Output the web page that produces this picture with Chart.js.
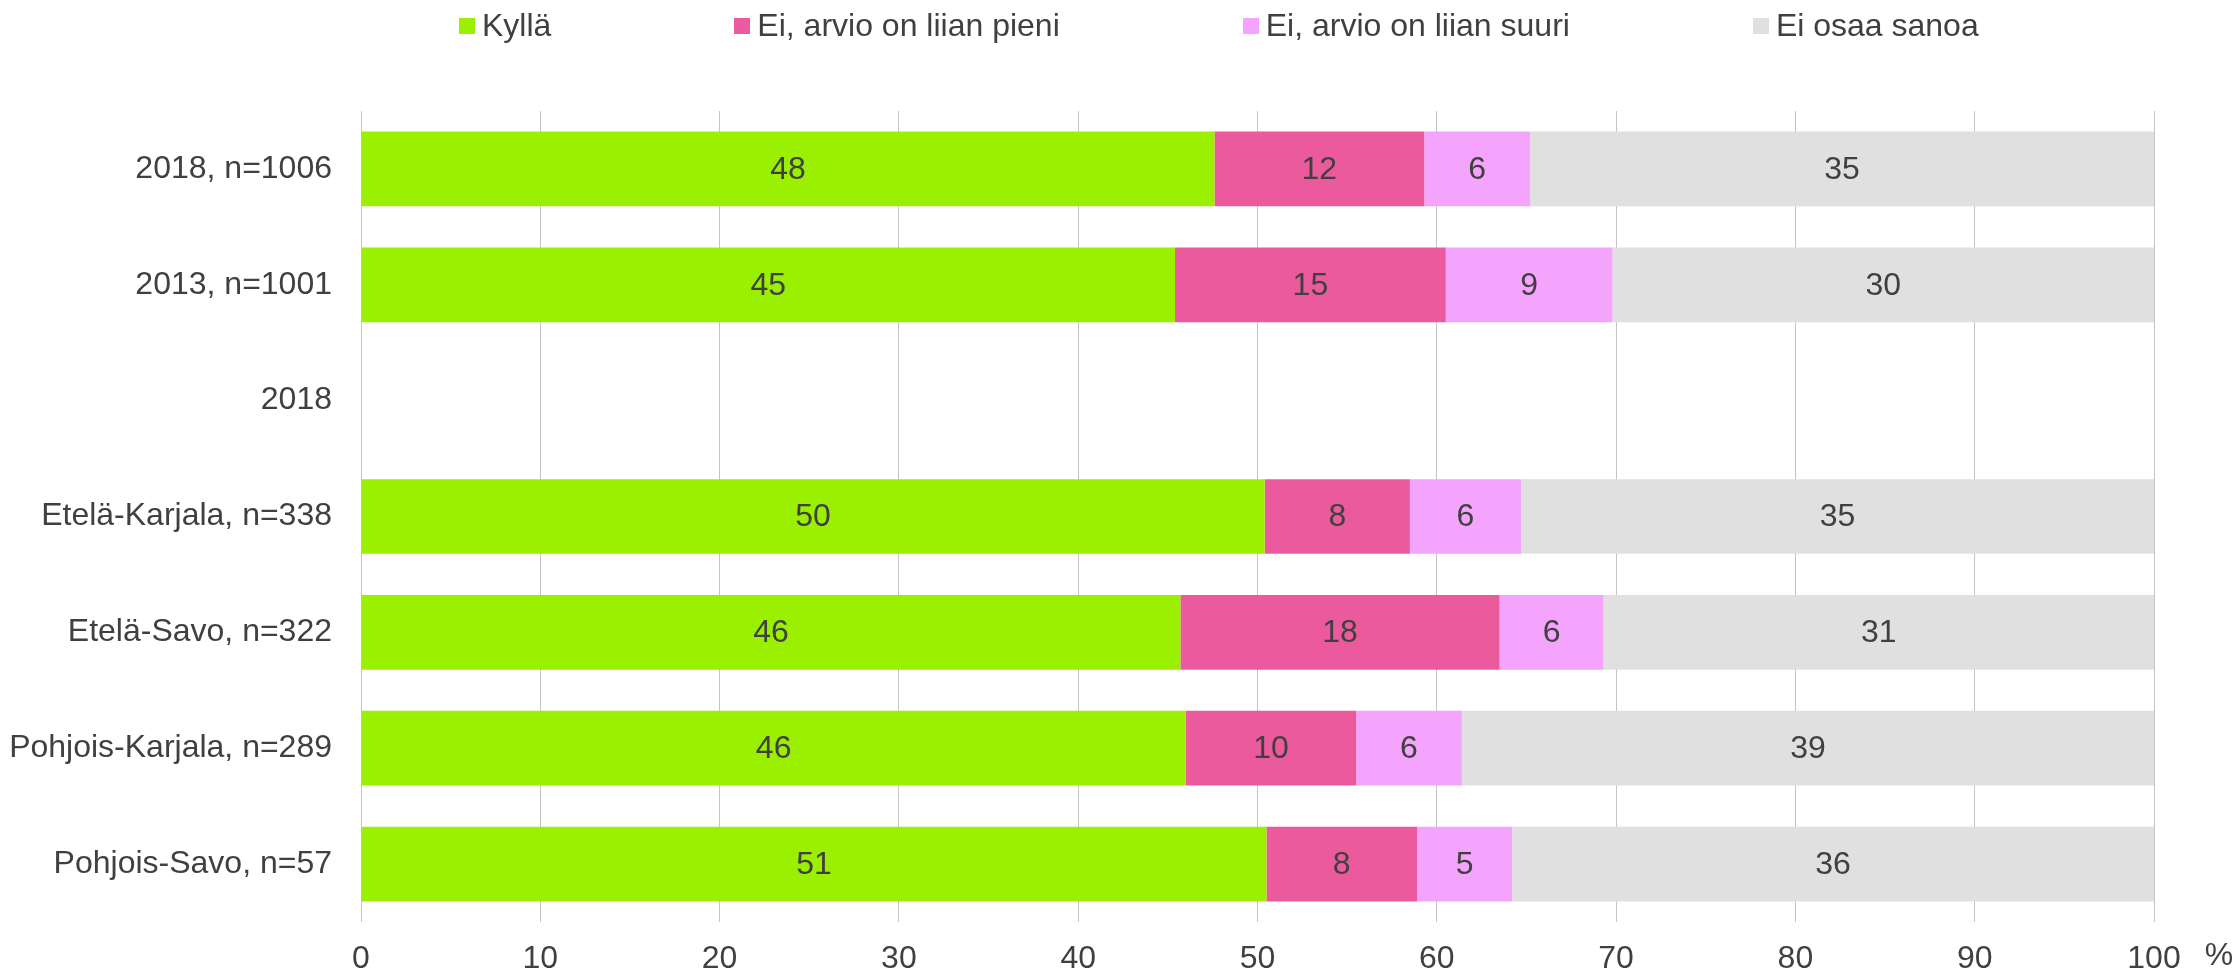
<!DOCTYPE html>
<html lang="fi">
<head>
  <meta charset="UTF-8">
  <title>Arvio</title>
  <script src="https://cdn.jsdelivr.net/npm/chart.js"></script>
  <style>
    body {
      margin: 0;
      background: #fff;
      font-family: 'Liberation Sans', Arial, sans-serif;
    }
    #wrapper {
      position: relative;
      width: 2239px;
      height: 977px;
    }
    #legend {
      position: absolute;
      top: 7px;
      left: 459px;
      display: flex;
      align-items: center;
      font-size: 32px;
      color: #404040;
      white-space: nowrap;
    }
    .legend-item {
      display: flex;
      align-items: center;
      margin-right: 183px;
    }
    .legend-box {
      width: 16px;
      height: 16px;
      margin-right: 7px;
    }
  </style>
</head>
<body>

<div id="wrapper">
  <div id="legend"></div>
  <canvas id="arvioChart" width="2239" height="977"></canvas>
</div>

<script>
  const categories = ['2018, n=1006', '2013, n=1001', '2018', 'Etelä-Karjala, n=338', 'Etelä-Savo, n=322', 'Pohjois-Karjala, n=289', 'Pohjois-Savo, n=57'];
  const seriesNames = ['Kyllä', 'Ei, arvio on liian pieni', 'Ei, arvio on liian suuri', 'Ei osaa sanoa'];
  const kylla = [47.6, 45.4, null, 50.4, 45.7, 46.0, 50.5];
  const liianPieni = [11.7, 15.1, null, 8.1, 17.8, 9.5, 8.4];
  const liianSuuri = [5.9, 9.3, null, 6.2, 5.8, 5.9, 5.3];
  const eiOsaa = [34.8, 30.2, null, 35.3, 30.7, 38.6, 35.8];
  const colors = ['#9AF000', '#EC5A9E', '#F4A4FC', '#E0E0E0'];

  const textColor = '#404040';
  const fontFamily = "'Liberation Sans', Arial, sans-serif";
  const fontSize = 32;

  // legend as html so the gaps between items can follow the original
  const htmlLegend = {
    id: 'htmlLegend',
    afterUpdate(chart) {
      const box = document.getElementById('legend');
      box.innerHTML = '';
      chart.data.datasets.forEach(ds => {
        const item = document.createElement('div');
        item.className = 'legend-item';
        const swatch = document.createElement('span');
        swatch.className = 'legend-box';
        swatch.style.background = ds.backgroundColor;
        const label = document.createElement('span');
        label.textContent = ds.label;
        item.appendChild(swatch);
        item.appendChild(label);
        box.appendChild(item);
      });
    }
  };

  // values written in the middle of each segment
  const segmentLabels = {
    id: 'segmentLabels',
    afterDatasetsDraw(chart) {
      const ctx = chart.ctx;
      ctx.save();
      ctx.font = fontSize + 'px ' + fontFamily;
      ctx.fillStyle = textColor;
      ctx.textAlign = 'center';
      ctx.textBaseline = 'middle';
      chart.data.datasets.forEach((ds, i) => {
        chart.getDatasetMeta(i).data.forEach((bar, j) => {
          const v = ds.data[j];
          if (v == null) return;
          const p = bar.getProps(['x', 'y', 'base'], true);
          ctx.fillText(Math.round(v), (p.x + p.base) / 2, p.y + 1);
        });
      });
      ctx.restore();
    }
  };

  // "%" unit after the last x tick
  const unitLabel = {
    id: 'unitLabel',
    afterDraw(chart) {
      const x = chart.scales.x;
      const ctx = chart.ctx;
      ctx.save();
      ctx.font = fontSize + 'px ' + fontFamily;
      ctx.fillStyle = textColor;
      ctx.textAlign = 'center';
      ctx.textBaseline = 'middle';
      ctx.fillText('%', x.right + 65, x.top + 21 + fontSize / 2 - 3);
      ctx.restore();
    }
  };

  const seriesValues = [kylla, liianPieni, liianSuuri, eiOsaa];

  const ctx = document.getElementById('arvioChart').getContext('2d');

  const arvioChart = new Chart(ctx, {
    type: 'bar',
    data: {
      labels: categories,
      datasets: seriesValues.map((values, i) => ({
        label: seriesNames[i],
        data: values,
        backgroundColor: colors[i],
        borderWidth: 0,
        barPercentage: 0.645,
        categoryPercentage: 1
      }))
    },
    options: {
      indexAxis: 'y',
      responsive: false,
      animation: false,
      layout: {
        padding: { top: 111, right: 85, bottom: 0, left: 0 }
      },
      plugins: {
        legend: { display: false },
        tooltip: { enabled: false }
      },
      scales: {
        x: {
          stacked: true,
          min: 0,
          max: 100,
          ticks: {
            stepSize: 10,
            padding: 21,
            color: textColor,
            font: { family: fontFamily, size: fontSize, lineHeight: 1 }
          },
          grid: {
            color: '#C4C4C4',
            lineWidth: 1,
            drawTicks: false
          },
          border: { display: false },
          afterFit(scale) {
            scale.height = 55;
          }
        },
        y: {
          stacked: true,
          ticks: {
            padding: 29,
            color: textColor,
            font: { family: fontFamily, size: fontSize }
          },
          grid: { display: false, drawTicks: false },
          border: { display: false },
          afterFit(scale) {
            scale.width = 361;
          }
        }
      }
    },
    plugins: [htmlLegend, segmentLabels, unitLabel]
  });
</script>

</body>
</html>
